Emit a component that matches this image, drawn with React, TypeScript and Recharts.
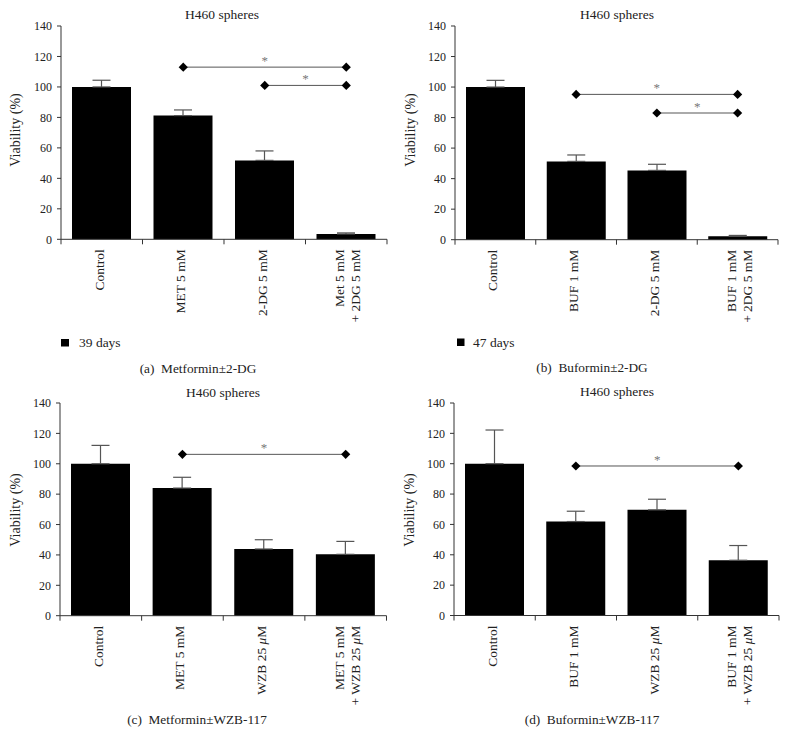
import { BarChart, Bar, XAxis, YAxis, ErrorBar, ReferenceLine, ReferenceDot } from 'recharts'

const FONT = '"Liberation Serif", "Times New Roman", serif'
const INK = '#222'
const Y_TICKS = [0, 20, 40, 60, 80, 100, 120, 140]

// (a) Metformin ± 2-DG
const CATS_A = ['Control', 'MET 5 mM', '2-DG 5 mM', 'Met 5 mM\n+ 2DG 5 mM']
const VALS_A = [100, 81.2, 51.8, 3.5]
const ERRS_A = [4.4, 3.7, 6.2, 0.7]
const SIG_A = [
  { from: 1, to: 3, y: 113 },
  { from: 2, to: 3, y: 101 },
]

// (b) Buformin ± 2-DG
const CATS_B = ['Control', 'BUF 1 mM', '2-DG 5 mM', 'BUF 1 mM\n+ 2DG 5 mM']
const VALS_B = [100, 51.3, 45.4, 2.2]
const ERRS_B = [4.4, 4.2, 4.0, 0.6]
const SIG_B = [
  { from: 1, to: 3, y: 95.2 },
  { from: 2, to: 3, y: 83 },
]

// (c) Metformin ± WZB-117
const CATS_C = ['Control', 'MET 5 mM', 'WZB 25 μM', 'MET 5 mM\n+ WZB 25 μM']
const VALS_C = [100, 84, 43.9, 40.4]
const ERRS_C = [12.1, 7.1, 6.1, 8.5]
const SIG_C = [{ from: 1, to: 3, y: 106.2 }]

// (d) Buformin ± WZB-117
const CATS_D = ['Control', 'BUF 1 mM', 'WZB 25 μM', 'BUF 1 mM\n+ WZB 25 μM']
const VALS_D = [100, 61.9, 69.6, 36.4]
const ERRS_D = [22.2, 6.8, 7.0, 9.7]
const SIG_D = [{ from: 1, to: 3, y: 98.5 }]

type Box = { x: number; y: number; w: number; h: number }
type Sig = { from: number; to: number; y: number }

// plot rectangles, page coordinates
const BOX_A: Box = { x: 61, y: 25.7, w: 326, h: 213.3 }
const BOX_B: Box = { x: 455, y: 26, w: 323, h: 213.7 }
const BOX_C: Box = { x: 60, y: 403.3, w: 326.5, h: 212.7 }
const BOX_D: Box = { x: 454, y: 403.3, w: 325, h: 212.5 }

const withMu = (s: string) =>
  s.split('μ').map((part, i) =>
    i === 0 ? part : [<tspan key={'m' + i} fontStyle="italic">μ</tspan>, part]
  )

const makeTick = (band: number, n: number) => (p: any) => {
  const { x, y, payload } = p
  const index = p.index ?? payload.index
  const lines = String(payload.value).split('\n')
  return (
    <g>
      <line x1={x - band / 2} x2={x - band / 2} y1={y} y2={y + 5} stroke="#333" />
      {index === n - 1 && <line x1={x + band / 2} x2={x + band / 2} y1={y} y2={y + 5} stroke="#333" />}
      <text
        transform={`translate(${x},${y + 10}) rotate(-90)`}
        textAnchor="end"
        fontSize={13.5}
        fontFamily={FONT}
        fill={INK}
      >
        {lines.map((l, i) => (
          <tspan key={i} x={0} y={lines.length > 1 ? -2 + i * 16 : 2}>
            {withMu(l)}
          </tspan>
        ))}
      </text>
    </g>
  )
}

const diamond = (p: any) => (
  <polygon
    points={`${p.cx},${p.cy - 4.6} ${p.cx + 4.6},${p.cy} ${p.cx},${p.cy + 4.6} ${p.cx - 4.6},${p.cy}`}
    fill="#000"
  />
)

function Panel({ box, cats, vals, errs, sigs }: { box: Box; cats: string[]; vals: number[]; errs: number[]; sigs: Sig[] }) {
  const data = cats.map((c, i) => ({ cat: c, v: vals[i], err: [0, errs[i]] }))
  const ML = 5, YW = 45, MT = 10, XH = 95, MB = 5, MR = 10
  const width = ML + YW + box.w + MR
  const height = MT + box.h + XH + MB
  const band = box.w / cats.length
  return (
    <div style={{ position: 'absolute', left: box.x - ML - YW, top: box.y - MT }}>
      <BarChart width={width} height={height} data={data} margin={{ top: MT, right: MR, bottom: MB, left: ML }} barSize={59}>
        <XAxis
          dataKey="cat"
          height={XH}
          interval={0}
          tickLine={false}
          tickSize={0}
          tickMargin={0}
          axisLine={{ stroke: '#333' }}
          tick={makeTick(band, cats.length)}
        />
        <YAxis
          width={YW}
          domain={[0, 140]}
          ticks={Y_TICKS}
          tickSize={4}
          tickMargin={5}
          axisLine={{ stroke: '#333' }}
          tickLine={{ stroke: '#333' }}
          tick={{ fontSize: 12, fill: INK, fontFamily: FONT }}
        />
        <Bar dataKey="v" fill="#000" isAnimationActive={false}>
          <ErrorBar dataKey="err" direction="y" width={9} stroke="#555" strokeWidth={1.2} isAnimationActive={false} />
        </Bar>
        {sigs.map((s, i) => (
          <ReferenceLine
            key={'l' + i}
            segment={[{ x: cats[s.from], y: s.y }, { x: cats[s.to], y: s.y }]}
            stroke="#555"
            strokeWidth={1}
            label={{ value: '*', position: 'top', offset: 2, fill: '#777', fontSize: 13, fontFamily: FONT }}
          />
        ))}
        {sigs.map((s, i) => (
          <ReferenceDot key={'a' + i} x={cats[s.from]} y={s.y} r={4.6} shape={diamond} />
        ))}
        {sigs.map((s, i) => (
          <ReferenceDot key={'b' + i} x={cats[s.to]} y={s.y} r={4.6} shape={diamond} />
        ))}
      </BarChart>
    </div>
  )
}

const txt = { fontFamily: FONT, fill: INK }

export default function App() {
  return (
    <div style={{ position: 'absolute', left: 0, top: 0, width: 789, height: 746, background: '#fff', overflow: 'hidden' }}>
      <Panel box={BOX_A} cats={CATS_A} vals={VALS_A} errs={ERRS_A} sigs={SIG_A} />
      <Panel box={BOX_B} cats={CATS_B} vals={VALS_B} errs={ERRS_B} sigs={SIG_B} />
      <Panel box={BOX_C} cats={CATS_C} vals={VALS_C} errs={ERRS_C} sigs={SIG_C} />
      <Panel box={BOX_D} cats={CATS_D} vals={VALS_D} errs={ERRS_D} sigs={SIG_D} />
      <svg width={789} height={746} style={{ position: 'absolute', left: 0, top: 0, pointerEvents: 'none' }}>
        {/* titles */}
        <text x={222} y={14} dy="0.35em" textAnchor="middle" fontSize={13.5} {...txt}>H460 spheres</text>
        <text x={617} y={14} dy="0.35em" textAnchor="middle" fontSize={13.5} {...txt}>H460 spheres</text>
        <text x={223} y={392} dy="0.35em" textAnchor="middle" fontSize={13.5} {...txt}>H460 spheres</text>
        <text x={617} y={391} dy="0.35em" textAnchor="middle" fontSize={13.5} {...txt}>H460 spheres</text>
        {/* y axis labels */}
        <text transform="translate(15,130) rotate(-90)" dy="0.35em" textAnchor="middle" fontSize={14} {...txt}>Viability (%)</text>
        <text transform="translate(410,130) rotate(-90)" dy="0.35em" textAnchor="middle" fontSize={14} {...txt}>Viability (%)</text>
        <text transform="translate(15,510) rotate(-90)" dy="0.35em" textAnchor="middle" fontSize={14} {...txt}>Viability (%)</text>
        <text transform="translate(409,510) rotate(-90)" dy="0.35em" textAnchor="middle" fontSize={14} {...txt}>Viability (%)</text>
        {/* legends */}
        <rect x={61} y={339} width={8} height={7.5} fill="#000" />
        <text x={79} y={342.7} dy="0.35em" fontSize={13.5} {...txt}>39 days</text>
        <rect x={457} y={338.5} width={7.5} height={7.5} fill="#000" />
        <text x={473} y={342.7} dy="0.35em" fontSize={13.5} {...txt}>47 days</text>
        {/* captions */}
        <text x={198} y={368} dy="0.35em" textAnchor="middle" fontSize={13.3} style={{ whiteSpace: 'pre' }} {...txt}>(a)  Metformin±2-DG</text>
        <text x={592} y={367.3} dy="0.35em" textAnchor="middle" fontSize={13.3} style={{ whiteSpace: 'pre' }} {...txt}>(b)  Buformin±2-DG</text>
        <text x={197} y={719.3} dy="0.35em" textAnchor="middle" fontSize={13.3} style={{ whiteSpace: 'pre' }} {...txt}>(c)  Metformin±WZB-117</text>
        <text x={592} y={719.3} dy="0.35em" textAnchor="middle" fontSize={13.3} style={{ whiteSpace: 'pre' }} {...txt}>(d)  Buformin±WZB-117</text>
      </svg>
    </div>
  )
}
